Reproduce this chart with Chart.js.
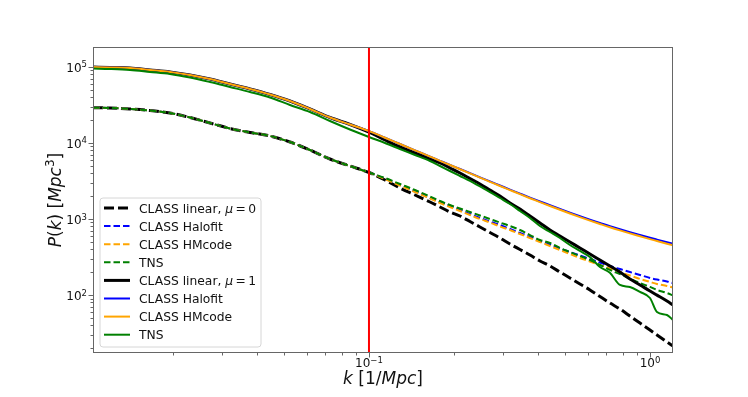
<!DOCTYPE html>
<html><head><meta charset="utf-8">
<script src="https://cdn.jsdelivr.net/npm/chart.js@4.4.1/dist/chart.umd.min.js"></script>
<style>html,body{margin:0;padding:0;background:#fff;}#wrap{width:748px;height:397px;}</style>
</head><body><div id="wrap"><canvas id="c" width="748" height="397"></canvas></div>
<script>
// ---- data (k in 1/Mpc, P in Mpc^3) ----
const k = [0.01042, 0.01198, 0.01411, 0.01662, 0.01957, 0.02307, 0.02718, 0.03201, 0.03772, 0.04444,
  0.05235, 0.06166, 0.07264, 0.08558, 0.1, 0.1140, 0.1289, 0.1458, 0.1649, 0.1790,
  0.1942, 0.2108, 0.2288, 0.2483, 0.2695, 0.2925, 0.3175, 0.3446, 0.3740, 0.4059,
  0.4406, 0.4782, 0.5190, 0.5633, 0.6114, 0.6636, 0.7202, 0.7818, 0.8485, 0.9213,
  1.0, 1.059, 1.1495, 1.2076];

const linearMu0 = [29000, 28750, 27900, 26660, 24710, 21570, 18260, 15460, 13700, 12320,
  10270, 8067, 6143, 4970, 4083, 3254, 2555, 2067, 1673, 1438,
  1236, 1095, 927, 785, 665, 563, 469, 397, 336, 281,
  241, 201, 168, 140, 117, 95.9, 78.7, 65.7, 53.1, 43.0,
  34.8, 29.9, 24.2, 21.4];
const halofitMu0 = [29000, 28750, 27900, 26660, 24710, 21570, 18260, 15460, 13700, 12320,
  10270, 8067, 6143, 4970, 4083, 3405, 2798, 2298, 1887, 1673,
  1482, 1313, 1163, 1031, 927, 834, 739, 655, 580, 514,
  462, 410, 368, 331, 298, 268, 241, 220, 201, 184,
  168, 160, 151, 144];
const hmcodeMu0 = [29000, 28750, 27900, 26660, 24710, 21570, 18260, 15460, 13700, 12320,
  10270, 8067, 6143, 4970, 4083, 3354, 2755, 2263, 1859, 1623,
  1438, 1274, 1129, 1000, 899, 797, 717, 635, 563, 499,
  442, 391, 347, 307, 276, 249, 224, 201, 181, 163,
  149, 140, 132, 126];
const tnsMu0 = [29000, 28750, 27900, 26660, 24710, 21570, 18260, 15460, 13700, 12320,
  10270, 8067, 6143, 4970, 4083, 3458, 2884, 2405, 1976, 1724,
  1528, 1374, 1236, 1112, 1000, 899, 809, 717, 616, 530,
  484, 416, 368, 326, 289, 249, 214, 189, 165, 144,
  128, 117, 106.6, 98.8];

const linearMu1 = [99400, 97900, 96400, 90800, 85500, 78000, 69100, 59400, 51100, 43250,
  35520, 27900, 21570, 17450, 13870, 10920, 8835, 7370, 6143, 5443,
  4680, 4020, 3405, 2884, 2405, 2005, 1623, 1353, 1095, 886,
  717, 598, 499, 416, 347, 289, 241, 201, 163, 136,
  113, 100, 83.7, 74.1];
const halofitMu1 = [99400, 97900, 96400, 90800, 85500, 78000, 69100, 59400, 51100, 43250,
  35520, 27900, 21570, 17450, 14300, 11700, 9670, 7991, 6607, 5818,
  5130, 4540, 4005, 3530, 3115, 2755, 2435, 2155, 1910, 1700,
  1518, 1355, 1212, 1089, 982, 889, 805, 734, 671, 616,
  567, 536, 495, 472];
const hmcodeMu1 = [99400, 97900, 96400, 90800, 85500, 78000, 69100, 59400, 51100, 43250,
  35520, 27900, 21570, 17450, 14300, 11700, 9670, 7991, 6607, 5818,
  5120, 4511, 3973, 3499, 3082, 2715, 2398, 2118, 1876, 1668,
  1482, 1321, 1181, 1059, 953, 860, 778, 708, 647, 593,
  544, 514, 474, 451];
const tnsMu1 = [95000, 93600, 90800, 85500, 80400, 72300, 63100, 54300, 46700, 39500,
  31480, 25480, 19400, 15000, 11960, 9970, 8310, 6935, 5780, 4970,
  4272, 3673, 3160, 2674, 2263, 1887, 1574, 1274, 1031, 809,
  675, 563, 455, 380, 317, 234, 196, 136, 128, 110,
  91.6, 60.0, 54.8, 47.1];

const kCut = 0.1;                  // vertical red line
const xRange = [0.01042, 1.2076];
const yRange = [17.35, 182000];
const xMajor = [0.1, 1];
const xMinor = [0.02,0.03,0.04,0.05,0.06,0.07,0.08,0.09,0.2,0.3,0.4,0.5,0.6,0.7,0.8,0.9];
const yMajor = [100, 1000, 10000, 100000];
const yMinor = [20,30,40,50,60,70,80,90,200,300,400,500,600,700,800,900,
  2000,3000,4000,5000,6000,7000,8000,9000,20000,30000,40000,50000,60000,70000,80000,90000];

const labels = ['CLASS linear, μ = 0', 'CLASS Halofit', 'CLASS HMcode', 'TNS',
                'CLASS linear, μ = 1', 'CLASS Halofit', 'CLASS HMcode', 'TNS'];

// ---- build datasets ----
const pts = arr => k.map((kv, i) => ({x: kv, y: arr[i]}));
const series = [
  {d: linearMu0, c: '#000000', w: 3, dash: [10, 4]},
  {d: halofitMu0, c: '#0000ff', w: 2, dash: [6.5, 3]},
  {d: hmcodeMu0, c: '#ffa500', w: 2, dash: [6.5, 3]},
  {d: tnsMu0, c: '#008000', w: 2, dash: [6.5, 3]},
  {d: linearMu1, c: '#000000', w: 3, dash: []},
  {d: halofitMu1, c: '#0000ff', w: 2, dash: []},
  {d: hmcodeMu1, c: '#ffa500', w: 2, dash: []},
  {d: tnsMu1, c: '#008000', w: 2, dash: []},
];
const datasets = series.map((s, i) => ({
  label: labels[i], data: pts(s.d), borderColor: s.c, borderWidth: s.w, borderDash: s.dash,
  pointRadius: 0, fill: false, cubicInterpolationMode: 'monotone', order: 10 - i, inLegend: true
}));
datasets.push({label: 'k cut', data: [{x: kCut, y: yRange[0]}, {x: kCut, y: yRange[1]}],
  borderColor: '#ff0000', borderWidth: 2, pointRadius: 0, order: 0, inLegend: false});

const FONT = '"DejaVu Sans", sans-serif';

function runsWidth(ctx, runs) {
  let w = 0;
  for (const r of runs) { ctx.font = r.font; w += ctx.measureText(r.t).width; }
  return w;
}
function drawRuns(ctx, runs, x, y) {
  let cx = x;
  for (const r of runs) { ctx.font = r.font; ctx.fillText(r.t, cx, y + (r.dy || 0)); cx += ctx.measureText(r.t).width; }
}
function powRuns(e) {
  return [{t: '10', font: '12px ' + FONT}, {t: e, font: '8.5px ' + FONT, dy: -4.5}];
}
function expOf(v) {
  const e = Math.round(Math.log10(v));
  return e < 0 ? '\u2212' + (-e) : String(e);
}

const mplPlugin = {
  id: 'mpl',
  afterDraw(chart) {
    const ctx = chart.ctx, ca = chart.chartArea, xs = chart.scales.x, ys = chart.scales.y;
    ctx.save();
    ctx.textBaseline = 'alphabetic';
    ctx.fillStyle = '#000';
    // frame
    ctx.strokeStyle = '#666'; ctx.lineWidth = 1;
    ctx.strokeRect(ca.left + 0.5, ca.top + 0.5, ca.right - ca.left - 1, ca.bottom - ca.top - 1);
    // ticks
    ctx.beginPath();
    for (const v of xMajor) { const p = Math.round(xs.getPixelForValue(v)) + 0.5; ctx.moveTo(p, ca.bottom); ctx.lineTo(p, ca.bottom + 4.5); }
    for (const v of xMinor) { const p = Math.round(xs.getPixelForValue(v)) + 0.5; ctx.moveTo(p, ca.bottom); ctx.lineTo(p, ca.bottom + 2.5); }
    for (const v of yMajor) { const p = Math.round(ys.getPixelForValue(v)) + 0.5; ctx.moveTo(ca.left, p); ctx.lineTo(ca.left - 4.5, p); }
    for (const v of yMinor) { const p = Math.round(ys.getPixelForValue(v)) + 0.5; if (p > ca.top && p < ca.bottom) { ctx.moveTo(ca.left, p); ctx.lineTo(ca.left - 2.5, p); } }
    ctx.stroke();
    // tick labels
    ctx.fillStyle = '#111';
    for (const v of xMajor) {
      const p = xs.getPixelForValue(v), r = powRuns(expOf(v));
      const w = runsWidth(ctx, r);
      drawRuns(ctx, r, p - w / 2, ca.bottom + 14);
    }
    for (const v of yMajor) {
      const p = ys.getPixelForValue(v), r = powRuns(expOf(v));
      const w = runsWidth(ctx, r);
      drawRuns(ctx, r, ca.left - 6 - w, p + 5);
    }
    // axis titles
    const it = 'italic 17px ' + FONT, nt = '17px ' + FONT;
    const xt = [{t: 'k', font: it}, {t: ' [1/', font: nt}, {t: 'Mpc', font: it}, {t: ']', font: nt}];
    const xw = runsWidth(ctx, xt);
    drawRuns(ctx, xt, (ca.left + ca.right) / 2 - xw / 2, 384);
    const yt = [{t: 'P', font: it}, {t: '(', font: nt}, {t: 'k', font: it}, {t: ')', font: nt},
      {t: ' [', font: nt}, {t: 'Mpc', font: it}, {t: '3', font: '12px ' + FONT, dy: -7}, {t: ']', font: nt}];
    const yw = runsWidth(ctx, yt);
    ctx.save();
    ctx.translate(61, (ca.top + ca.bottom) / 2);
    ctx.rotate(-Math.PI / 2);
    drawRuns(ctx, yt, -yw / 2, 0);
    ctx.restore();
    // legend
    const items = chart.data.datasets.filter(d => d.inLegend);
    const bx = 100, by = 198, bw = 161, bh = 149, rr = 3;
    ctx.beginPath();
    ctx.moveTo(bx + rr, by); ctx.lineTo(bx + bw - rr, by); ctx.quadraticCurveTo(bx + bw, by, bx + bw, by + rr);
    ctx.lineTo(bx + bw, by + bh - rr); ctx.quadraticCurveTo(bx + bw, by + bh, bx + bw - rr, by + bh);
    ctx.lineTo(bx + rr, by + bh); ctx.quadraticCurveTo(bx, by + bh, bx, by + bh - rr);
    ctx.lineTo(bx, by + rr); ctx.quadraticCurveTo(bx, by, bx + rr, by);
    ctx.closePath();
    ctx.fillStyle = 'rgba(255,255,255,0.8)'; ctx.fill();
    ctx.strokeStyle = '#d6d6d6'; ctx.lineWidth = 1; ctx.stroke();
    const lf = '12.3px ' + FONT, lif = 'italic 12.3px ' + FONT;
    items.forEach((d, i) => {
      const cy = 208 + i * 18.1;
      ctx.beginPath();
      ctx.setLineDash(d.borderDash || []);
      ctx.strokeStyle = d.borderColor; ctx.lineWidth = d.borderWidth;
      ctx.moveTo(104, cy); ctx.lineTo(130, cy); ctx.stroke();
      ctx.setLineDash([]);
      ctx.fillStyle = '#111';
      let runs;
      if (d.label.includes('μ')) {
        const [a, b] = d.label.split('μ');
        runs = [{t: a, font: lf}, {t: 'μ', font: lif}, {t: b.replace(/ /g, '\u2009'), font: lf}];
      } else runs = [{t: d.label, font: lf}];
      drawRuns(ctx, runs, 139, cy + 4.5);
    });
    ctx.restore();
  }
};

new Chart(document.getElementById('c'), {
  type: 'line',
  data: {datasets},
  options: {
    responsive: false, animation: false, devicePixelRatio: 1,
    layout: {padding: {left: 93, right: 75, top: 47, bottom: 44}},
    parsing: true,
    scales: {
      x: {type: 'logarithmic', min: xRange[0], max: xRange[1], display: false},
      y: {type: 'logarithmic', min: yRange[0], max: yRange[1], display: false}
    },
    plugins: {legend: {display: false}, tooltip: {enabled: false}}
  },
  plugins: [mplPlugin]
});
</script>
</body></html>
